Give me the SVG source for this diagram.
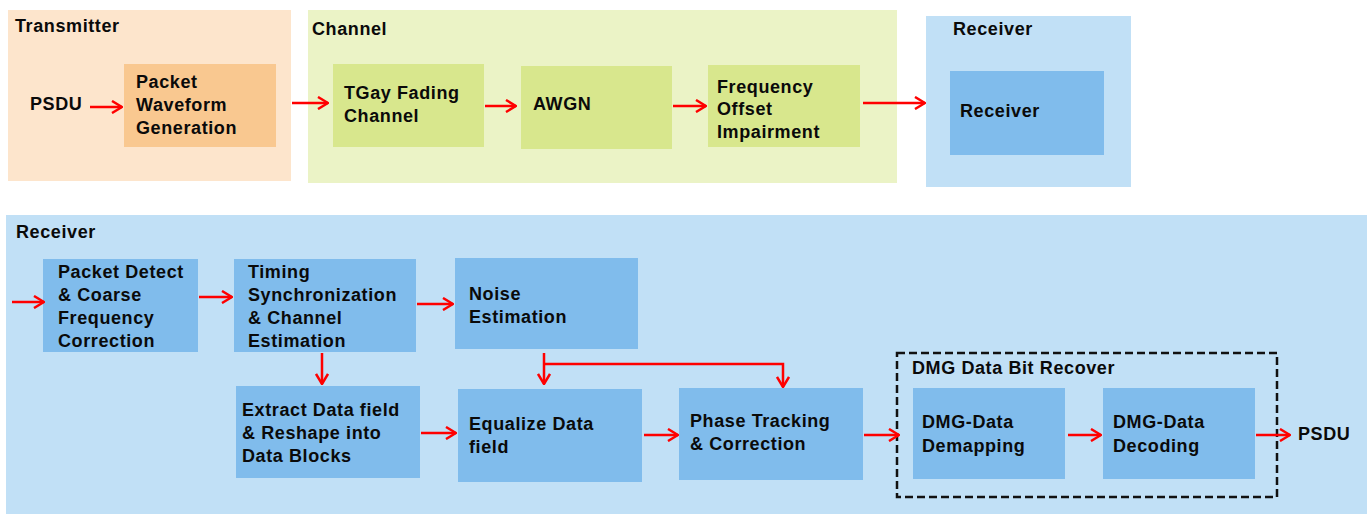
<svg xmlns="http://www.w3.org/2000/svg" width="1367" height="514" viewBox="0 0 1367 514">
<defs>
<marker id="ah" viewBox="0 0 12 14" refX="11" refY="7" markerWidth="12" markerHeight="14" markerUnits="userSpaceOnUse" orient="auto">
<path d="M1,1 L11,7 L1,13" fill="none" stroke="#ff0000" stroke-width="2.5"/>
</marker>
</defs>
<style>
text{font-family:"Liberation Sans",Arial,sans-serif;font-weight:bold;font-size:18px;fill:#0a0a0a;letter-spacing:0.6px}
.tx{fill:#fde5cc}.txb{fill:#f9c890}
.ch{fill:#ebf3c6}.chb{fill:#d8e78d}
.rx{fill:#c1e0f6}.rxb{fill:#80bcec}
.c{fill:none;stroke:#ff0000;stroke-width:2.5;marker-end:url(#ah)}
</style>
<rect width="1367" height="514" fill="#ffffff"/>
<g id="transmitter">
<rect class="tx" x="8" y="10" width="283" height="171"/>
<text x="15" y="32">Transmitter</text>
</g>
<g id="psdu-in"><text x="30" y="110">PSDU</text></g>
<g id="packet-waveform">
<rect class="txb" x="124" y="64" width="152" height="83"/>
<text x="136" y="88">Packet</text><text x="136" y="111">Waveform</text><text x="136" y="134">Generation</text>
</g>
<g id="channel">
<rect class="ch" x="308" y="10" width="589" height="173"/>
<text x="312" y="35">Channel</text>
</g>
<g id="tgay">
<rect class="chb" x="333" y="64" width="151" height="83"/>
<text x="344" y="99">TGay Fading</text><text x="344" y="122">Channel</text>
</g>
<g id="awgn">
<rect class="chb" x="521" y="66" width="151" height="83"/>
<text x="533" y="110">AWGN</text>
</g>
<g id="freq-offset">
<rect class="chb" x="708" y="65" width="152" height="82"/>
<text x="717" y="93">Frequency</text><text x="717" y="115">Offset</text><text x="717" y="138">Impairment</text>
</g>
<g id="receiver-top">
<rect class="rx" x="926" y="16" width="205" height="171"/>
<text x="953" y="35">Receiver</text>
</g>
<g id="receiver-inner">
<rect class="rxb" x="950" y="71" width="154" height="84"/>
<text x="960" y="117">Receiver</text>
</g>
<g id="receiver-bottom">
<rect class="rx" x="6" y="215" width="1361" height="299"/>
<text x="16" y="238">Receiver</text>
</g>
<g id="packet-detect">
<rect class="rxb" x="43" y="259" width="155" height="93"/>
<text x="58" y="278">Packet Detect</text><text x="58" y="301">&amp; Coarse</text><text x="58" y="324">Frequency</text><text x="58" y="347">Correction</text>
</g>
<g id="timing">
<rect class="rxb" x="234" y="259" width="182" height="93"/>
<text x="248" y="278">Timing</text><text x="248" y="301">Synchronization</text><text x="248" y="324">&amp; Channel</text><text x="248" y="347">Estimation</text>
</g>
<g id="noise">
<rect class="rxb" x="455" y="258" width="183" height="91"/>
<text x="469" y="300">Noise</text><text x="469" y="323">Estimation</text>
</g>
<g id="extract">
<rect class="rxb" x="236" y="386" width="184" height="92"/>
<text x="242" y="416">Extract Data field</text><text x="242" y="439">&amp; Reshape into</text><text x="242" y="462">Data Blocks</text>
</g>
<g id="equalize">
<rect class="rxb" x="458" y="389" width="184" height="93"/>
<text x="469" y="430">Equalize Data</text><text x="469" y="453">field</text>
</g>
<g id="phase">
<rect class="rxb" x="679" y="388" width="184" height="92"/>
<text x="690" y="427">Phase Tracking</text><text x="690" y="450">&amp; Correction</text>
</g>
<g id="dmg-recover">
<rect x="897" y="353" width="380" height="144" fill="none" stroke="#111" stroke-width="2.5" stroke-dasharray="8,4"/>
<text x="912" y="374">DMG Data Bit Recover</text>
</g>
<g id="demapping">
<rect class="rxb" x="913" y="388" width="152" height="91"/>
<text x="922" y="428">DMG-Data</text><text x="922" y="452">Demapping</text>
</g>
<g id="decoding">
<rect class="rxb" x="1103" y="388" width="152" height="91"/>
<text x="1113" y="428">DMG-Data</text><text x="1113" y="452">Decoding</text>
</g>
<g id="psdu-out"><text x="1298" y="440">PSDU</text></g>
<g id="connectors">
<path class="c" d="M90,107 H122"/>
<path class="c" d="M292,103 H328"/>
<path class="c" d="M485,106 H516"/>
<path class="c" d="M673,106 H706"/>
<path class="c" d="M863,103 H925"/>
<path class="c" d="M12,302 H44"/>
<path class="c" d="M199,297 H232"/>
<path class="c" d="M417,304 H453"/>
<path class="c" d="M322,353 V384"/>
<path class="c" d="M421,433 H456"/>
<path class="c" d="M544,353 V384"/>
<path class="c" d="M544,364 H783 V387"/>
<path class="c" d="M644,435 H678"/>
<path class="c" d="M864,435 H899"/>
<path class="c" d="M1068,435 H1101"/>
<path class="c" d="M1256,435 H1290"/>
</g>
</svg>
